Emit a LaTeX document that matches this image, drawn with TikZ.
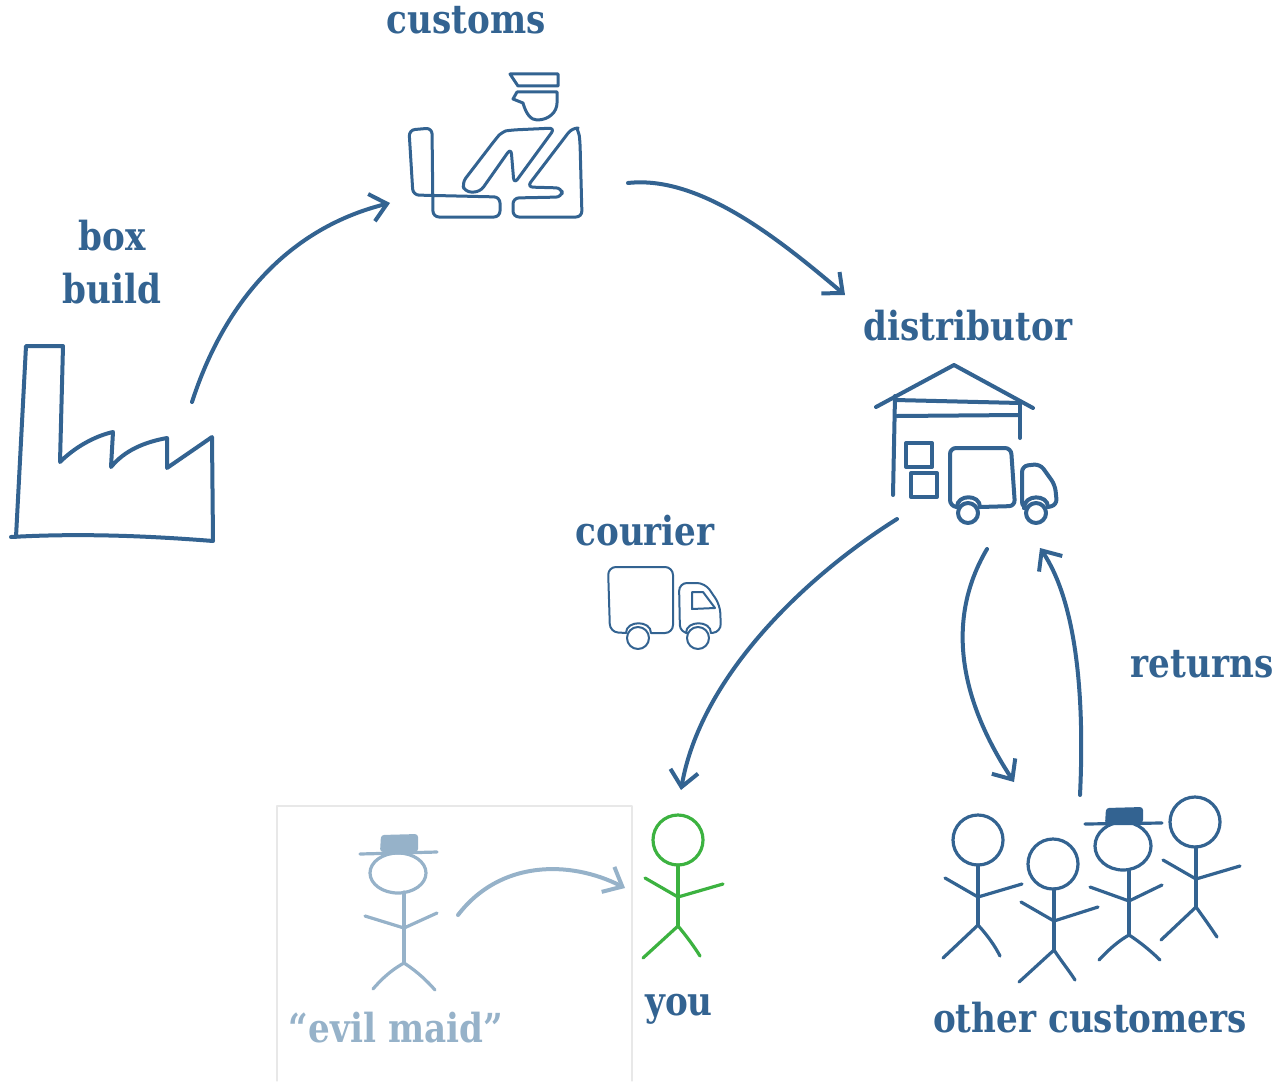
\documentclass[tikz,border=0pt]{standalone}
\usepackage{fontspec}
\newfontfamily\lblfont[FakeStretch=0.855]{DejaVu Serif}
\usetikzlibrary{arrows.meta}
\definecolor{ink}{RGB}{51,99,145}
\definecolor{faded}{RGB}{150,178,201}
\definecolor{youg}{RGB}{60,178,64}
\definecolor{framegray}{RGB}{232,232,232}

\begin{document}
\begin{tikzpicture}[x=0.5pt,y=-0.5pt,
  line cap=round, line join=round,
  lbl/.style={text=ink, font=\lblfont\bfseries\fontsize{20}{26.5}\selectfont, inner sep=0pt, align=center},
  thinicon/.style={draw=ink, line width=1pt},
  icon/.style={draw=ink, line width=1.5pt},
  thickicon/.style={draw=ink, line width=2pt},
  flow/.style={draw=ink, line width=2pt, -{Straight Barb[length=8pt,width=14pt]}},
  stick/.style={draw=ink, line width=1.6pt},
  wheel/.style={fill=white},
]
\useasboundingbox (0,0) rectangle (1283,1081);

% ---------- labels ----------
\node[lbl] (customs) at (466,20) {customs};
\node[lbl] (boxbuild) at (112,262) {box\\build};
\node[lbl] (distributor) at (968,326) {distributor};
\node[lbl] (courier) at (645,531) {courier};
\node[lbl] (returns) at (1202,664) {returns};
\node[lbl] (you) at (679,1009) {you};
\node[lbl] (others) at (1090,1018) {other customers};
\node[lbl, text=faded] (evilmaid) at (396,1028) {“evil maid”};

% ---------- factory ----------
\draw[thickicon] (11,537) .. controls (80,533) and (150,536) .. (213,541)
  -- (212,437) -- (167,468) -- (167,438) .. controls (145,442) and (125,450) .. (111,467)
  -- (113,432) .. controls (95,436) and (75,447) .. (60,462)
  -- (63,346) -- (26,346) -- (16,537);

% ---------- customs officer ----------
\draw[icon] (510,74) -- (558,74) -- (558,86) -- (518,86) -- cycle;
\draw[icon] (517,92) -- (513,99) -- (523,103) .. controls (526,114) and (531,120) .. (537,120)
  .. controls (549,120) and (557,112) .. (557,103) -- (557,92) -- cycle;
\draw[icon, rounded corners=3] (432,128) -- (409,130) -- (413,195) -- (500,197)
  -- (500,217) -- (433,217) -- cycle;
\draw[icon, rounded corners=3] (513,217) -- (582,217) -- (580,142)
  .. controls (579,133) and (576,128) .. (572,128) -- (527,187) -- (562,188)
  -- (562,197) -- (513,198) -- cycle;
\draw[icon, rounded corners=3] (555,128) -- (512,130) .. controls (505,131) and (500,134) .. (495,140)
  -- (462,183) -- (465,192) -- (480,192) -- (511,148) -- (514,184) -- cycle;

% ---------- distributor warehouse ----------
\draw[thickicon] (876,407) -- (954,365) -- (1033,408);
\draw[thickicon] (895,396) -- (893,495);
\draw[thickicon] (1020,403) -- (1020,438);
\draw[thickicon] (895,400) -- (1020,403);
\draw[thickicon] (897,416) -- (1019,415);
\draw[thickicon] (906,443) rectangle (932,467);
\draw[thickicon] (911,473) rectangle (937,497);
\draw[thickicon, rounded corners=3] (980,507) -- (1015,506) -- (1011,448) -- (950,448) -- (950,506) -- (957,507);
\draw[thickicon] (957,507) .. controls (957,494) and (980,494) .. (980,507);
\draw[thickicon, wheel] (968,513) circle[radius=10];
\draw[thickicon, rounded corners=3] (1048,507) -- (1057,505) -- (1055,485) -- (1040,464) -- (1022,466) -- (1022,508) -- (1024,508);
\draw[thickicon] (1024,508) .. controls (1024,494) and (1048,494) .. (1048,507);
\draw[thickicon, wheel] (1036,513) circle[radius=10];

% ---------- courier truck ----------
\draw[thinicon, rounded corners=4] (651,633) -- (673,633) -- (673,567) -- (608,567) -- (610,632) -- (626,633);
\draw[thinicon] (626,633) .. controls (626,620) and (651,620) .. (651,633);
\draw[thinicon, wheel] (638,638) circle[radius=11];
\draw[thinicon, rounded corners=4] (711,633) -- (721,632) -- (720,605) -- (705,583) -- (679,583) -- (680,633) -- (686,633);
\draw[thinicon] (686,633) .. controls (686,620) and (711,620) .. (711,633);
\draw[thinicon, wheel] (698,638) circle[radius=11];
\draw[thinicon] (692,592) -- (703,592) -- (715,608) -- (692,609) -- cycle;

% ---------- evil maid frame ----------
\draw[framegray, line width=0.6pt] (277,1081) -- (277,806) -- (632,806) -- (632,1081);

% ---------- evil maid ----------
\draw[faded, line width=1.6pt] (398,873) ellipse[x radius=28, y radius=20];
\fill[faded, rounded corners=1.5] (380,852) -- (381,835) -- (418,834) -- (418,852) -- cycle;
\draw[faded, line width=1.6pt] (360,854) -- (437,852);
\draw[faded, line width=1.6pt] (404,892) -- (404,963);
\draw[faded, line width=1.6pt] (365,916) -- (404,928) -- (437,913);
\draw[faded, line width=1.6pt] (373,989) .. controls (385,975) and (395,968) .. (404,963) .. controls (418,972) and (428,982) .. (435,990);

% ---------- you ----------
\draw[youg, line width=1.6pt] (678,840) circle[radius=25];
\draw[youg, line width=1.6pt] (678,865) -- (678,926);
\draw[youg, line width=1.6pt] (645,878) -- (678,897) -- (723,884);
\draw[youg, line width=1.6pt] (643,958) -- (678,926) .. controls (688,938) and (695,948) .. (700,956);

% ---------- other customers ----------
\draw[stick] (978,840) circle[radius=25];
\draw[stick] (978,865) -- (978,925);
\draw[stick] (945,878) -- (978,897) -- (1022,884);
\draw[stick] (943,958) -- (978,925) .. controls (988,936) and (995,946) .. (1000,956);

\draw[stick] (1053,864) circle[radius=25];
\draw[stick] (1054,889) -- (1054,950);
\draw[stick] (1021,902) -- (1054,921) -- (1098,907);
\draw[stick] (1019,982) -- (1054,950) .. controls (1062,962) and (1070,972) .. (1075,980);

\draw[stick] (1123,846) ellipse[x radius=28, y radius=24];
\fill[ink, rounded corners=1.5] (1105,824) -- (1106,808) -- (1143,807) -- (1143,823) -- cycle;
\draw[stick] (1085,824) -- (1162,823);
\draw[stick] (1129,870) -- (1129,935);
\draw[stick] (1090,887) -- (1129,901) -- (1162,885);
\draw[stick] (1099,960) .. controls (1110,948) and (1120,940) .. (1129,935) .. controls (1140,942) and (1152,952) .. (1160,960);

\draw[stick] (1195,822) circle[radius=25];
\draw[stick] (1196,847) -- (1196,907);
\draw[stick] (1163,860) -- (1196,879) -- (1240,866);
\draw[stick] (1161,940) -- (1196,907) .. controls (1204,918) and (1211,928) .. (1217,937);

% ---------- connectors ----------
\coordinate (factory-out) at (192,402);
\coordinate (customs-in) at (390,203);
\coordinate (customs-out) at (628,183);
\coordinate (dist-in) at (845,295);
\coordinate (dist-out1) at (897,519);
\coordinate (you-in) at (681,790);
\coordinate (dist-out2) at (987,549);
\coordinate (others-in) at (1014,782);
\coordinate (others-out) at (1080,795);
\coordinate (dist-in2) at (1040,548);
\coordinate (maid-out) at (458,915);
\coordinate (you-side) at (625,888);

\draw[flow] (factory-out) .. controls (225,300) and (290,228) .. (customs-in);
\draw[flow] (customs-out) .. controls (700,175) and (780,240) .. (dist-in);
\draw[flow] (dist-out1) .. controls (800,580) and (700,680) .. (you-in);
\draw[flow] (dist-out2) .. controls (945,620) and (960,700) .. (others-in);
\draw[flow] (others-out) .. controls (1085,690) and (1075,600) .. (dist-in2);
\draw[draw=faded, line width=2pt, -{Straight Barb[length=8pt,width=14pt]}] (maid-out) .. controls (500,860) and (570,860) .. (you-side);

\end{tikzpicture}
\end{document}
